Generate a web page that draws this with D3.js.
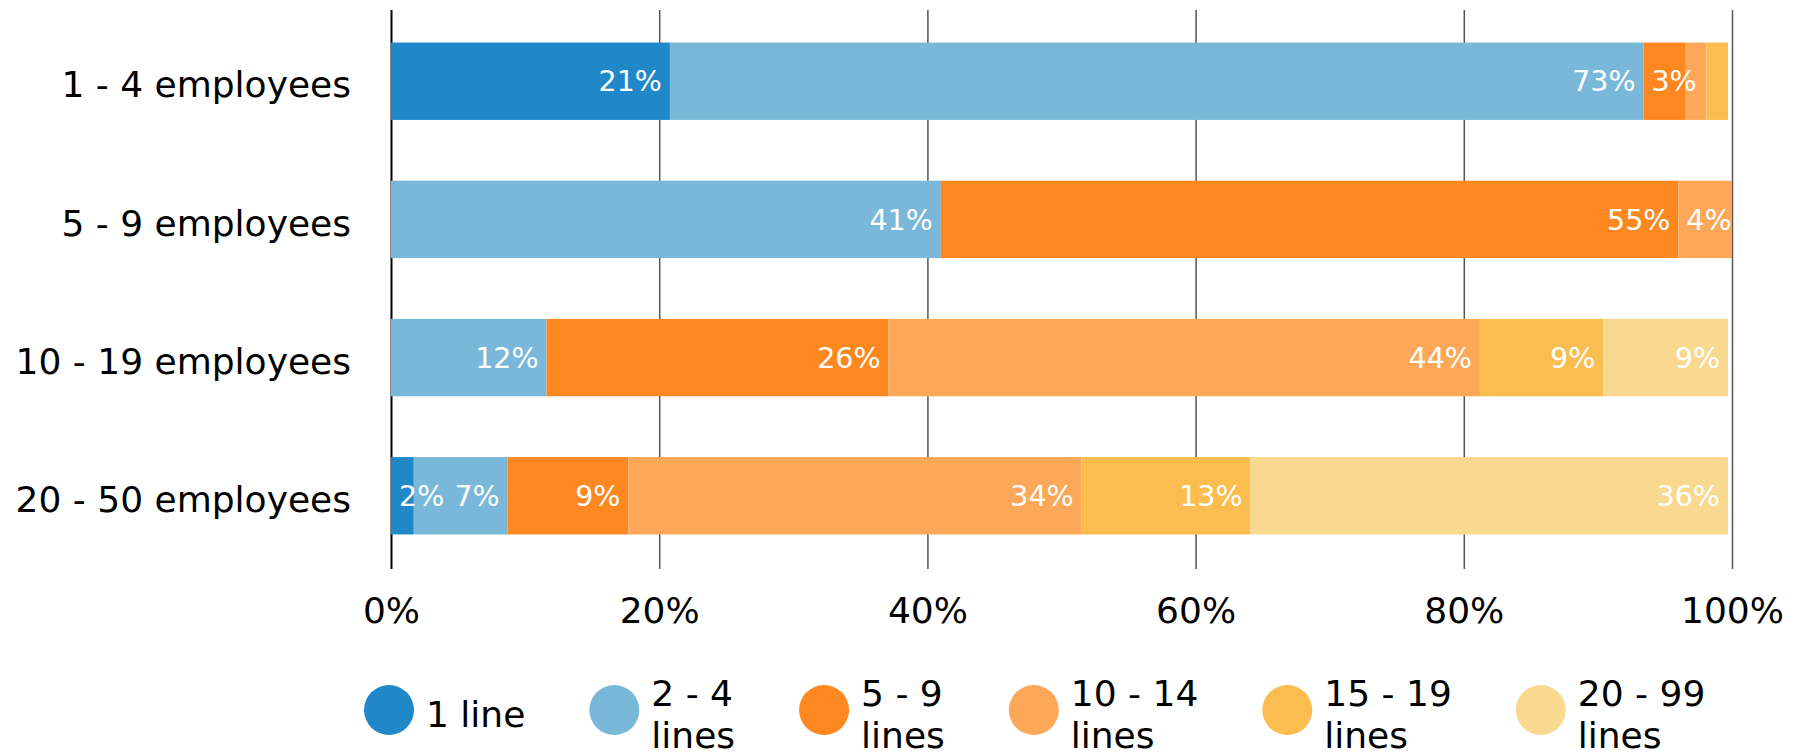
<!DOCTYPE html>
<html>
<head>
<meta charset="utf-8">
<script src="https://cdn.jsdelivr.net/npm/d3@7"></script>
<style>
  html, body { margin: 0; padding: 0; background: #fff; }
  svg { display: block; font-family: "DejaVu Sans", Verdana, sans-serif; }
</style>
</head>
<body>
<svg id="chart" width="1798" height="755"></svg>
<script>
// Company size groups
const categories = ["1 - 4 employees", "5 - 9 employees", "10 - 19 employees", "20 - 50 employees"];

// Share of companies (%) by number of lines, one array per series
const seriesNames = ["1 line", "2 - 4 lines", "5 - 9 lines", "10 - 14 lines", "15 - 19 lines", "20 - 99 lines"];
const oneLine          = [20.8, 0.0, 0.0, 1.7];
const twoToFour        = [72.6, 41.0, 11.6, 7.0];
const fiveToNine       = [3.1, 55.0, 25.5, 9.0];
const tenToFourteen    = [1.6, 4.0, 44.1, 33.8];
const fifteenToNineteen= [1.6, 0.0, 9.2, 12.6];
const twentyToNinetyNine=[0.0, 0.0, 9.3, 35.6];

const xTicks = [0, 20, 40, 60, 80, 100];

const seriesColors = ["#2088c8", "#7ab8da", "#fe8820", "#fda758", "#fbbc50", "#f9d88f"];

// Build rows for d3.stack
const seriesValues = [oneLine, twoToFour, fiveToNine, tenToFourteen, fifteenToNineteen, twentyToNinetyNine];
const table = categories.map((c, i) => {
  const row = { category: c };
  seriesNames.forEach((s, k) => { row[s] = seriesValues[k][i]; });
  return row;
});

const svg = d3.select("#chart");
const plotLeft = 391, plotRight = 1732, plotTop = 8, plotBottom = 569;

const x = d3.scaleLinear().domain([0, 100]).range([plotLeft, plotRight]);
const y = d3.scaleBand().domain(categories).range([plotTop, plotBottom])
  .paddingInner(0.44).paddingOuter(0.25);
const color = d3.scaleOrdinal().domain(seriesNames).range(seriesColors);

// Vertical gridlines and bottom tick labels
const xAxis = svg.append("g")
  .attr("transform", `translate(0,${plotBottom})`)
  .call(d3.axisBottom(x).tickValues(xTicks).tickFormat(d => d + "%")
    .tickSize(-(plotBottom - plotTop - 2)).tickSizeOuter(0));
xAxis.select(".domain").remove();
xAxis.selectAll(".tick line")
  .attr("stroke", d => d === 0 ? "#000" : "#555")
  .attr("stroke-width", d => d === 0 ? 2 : 1.5);
xAxis.selectAll(".tick text")
  .attr("y", 54).attr("dy", 0)
  .attr("fill", "#000")
  .style("font-size", "36px")
  .style("font-family", "DejaVu Sans, Verdana, sans-serif");

// Category labels on the left
const yAxis = svg.append("g")
  .attr("transform", `translate(${plotLeft},0)`)
  .call(d3.axisLeft(y).tickSize(0).tickPadding(40));
yAxis.select(".domain").remove();
yAxis.selectAll(".tick text")
  .attr("dy", "0.45em")
  .attr("fill", "#000")
  .style("font-size", "36px")
  .style("font-family", "DejaVu Sans, Verdana, sans-serif");

// Stacked bars
const stacked = d3.stack().keys(seriesNames)(table);

const layers = svg.append("g").selectAll("g")
  .data(stacked)
  .join("g")
  .attr("fill", d => color(d.key));

layers.selectAll("rect")
  .data(d => d.filter(p => p[1] - p[0] > 0))
  .join("rect")
  .attr("x", p => x(p[0]))
  .attr("y", p => y(p.data.category))
  .attr("width", p => x(p[1]) - x(p[0]))
  .attr("height", y.bandwidth());

// Value labels: right-aligned inside each segment, started at the segment's
// left edge when it is too narrow, hidden when they collide or leave the plot
const labelGroup = svg.append("g");
const pad = 8;
categories.forEach((cat, i) => {
  let lastRight = -Infinity;
  stacked.forEach(layer => {
    const p = layer[i];
    const v = p[1] - p[0];
    if (v <= 0) return;
    const x0 = x(p[0]), x1 = x(p[1]);
    const t = labelGroup.append("text")
      .attr("fill", "#fff")
      .style("font-size", "28.5px")
      .attr("y", y(cat) + y.bandwidth() / 2)
      .attr("dy", "0.36em")
      .text(d3.format(".0f")(v) + "%");
    const w = t.node().getComputedTextLength();
    let left = x1 - pad - w;
    if (left < x0 + pad) left = x0 + pad;
    const right = left + w;
    if (left < lastRight + 2 || right > plotRight + 2) { t.remove(); return; }
    t.attr("x", left);
    lastRight = right;
  });
});

// Legend with wrapped labels
const legend = svg.append("g");
const legendY = 710, r = 25, textGap = 37, itemGap = 89, wrapWidth = 130, lineHeight = 42.5;
let cx = plotLeft - 2;
seriesNames.forEach(name => {
  const item = legend.append("g");
  item.append("circle").attr("cx", cx).attr("cy", legendY).attr("r", r).attr("fill", color(name));
  const text = item.append("text")
    .attr("fill", "#000")
    .style("font-size", "36px");
  // greedy word wrap
  const words = name.split(" ");
  const lines = [];
  let current = "";
  const probe = text.append("tspan");
  words.forEach(wd => {
    const trial = current ? current + " " + wd : wd;
    probe.text(trial);
    if (current && probe.node().getComputedTextLength() > wrapWidth) {
      lines.push(current);
      current = wd;
    } else {
      current = trial;
    }
  });
  lines.push(current);
  probe.remove();
  const firstBaseline = legendY + 17 - (lines.length - 1) * lineHeight / 2;
  let maxW = 0;
  lines.forEach((ln, k) => {
    const ts = text.append("tspan")
      .attr("x", cx + textGap)
      .attr("y", firstBaseline + k * lineHeight)
      .text(ln);
    maxW = Math.max(maxW, ts.node().getComputedTextLength());
  });
  cx = cx + textGap + maxW + itemGap;
});
</script>
</body>
</html>
